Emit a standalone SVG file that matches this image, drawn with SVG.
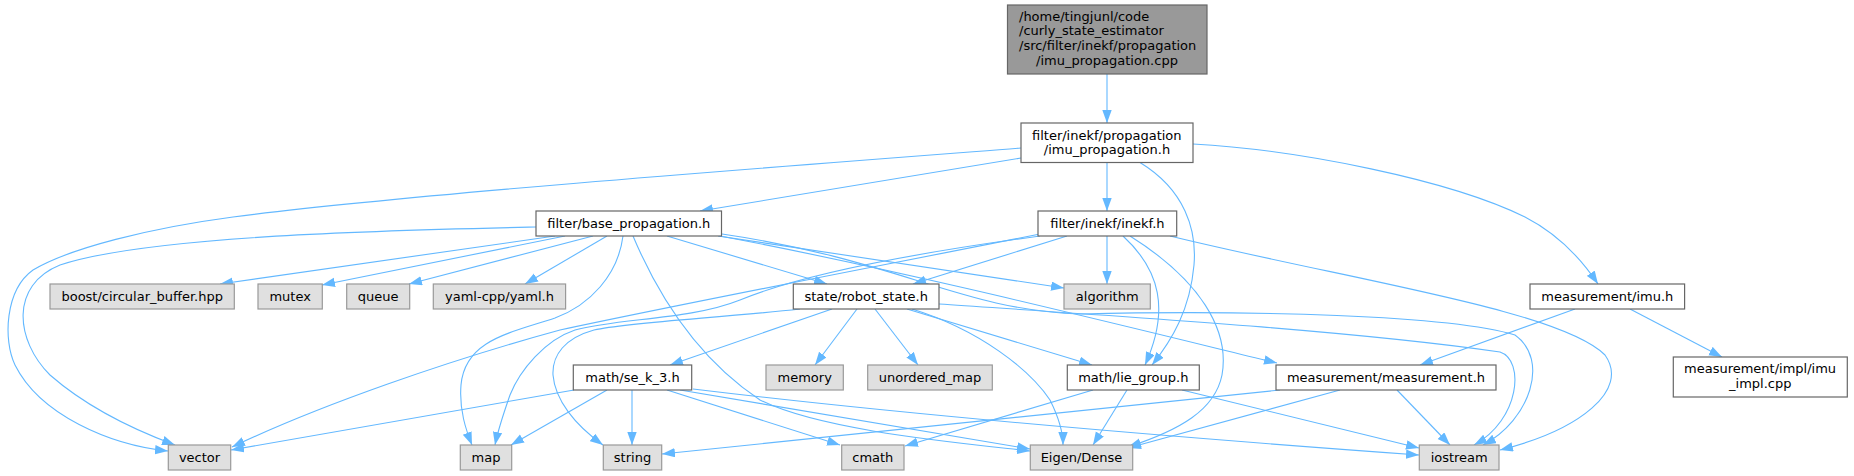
<svg xmlns="http://www.w3.org/2000/svg" width="1854" height="476" viewBox="0 0 1854 476">
<style>
.e{fill:none;stroke:#63b8ff;stroke-width:1.1;marker-end:url(#ah)}
.n rect{fill:#ffffff;stroke:#666666;stroke-width:1.2}
.x rect{fill:#e0e0e0;stroke:#999999;stroke-width:1.2}
.r rect{fill:#999999;stroke:#666666;stroke-width:1.2}
text{font-family:"DejaVu Sans","Liberation Sans",sans-serif;font-size:13px;fill:#000000}
.m{text-anchor:middle}
</style>
<defs>
<marker id="ah" markerUnits="userSpaceOnUse" markerWidth="14" markerHeight="10" refX="13" refY="4.7" orient="auto">
<path d="M0,0 L13,4.7 L0,9.4 z" fill="#63b8ff"/>
</marker>
</defs>
<rect width="1854" height="476" fill="#ffffff"/>
<g id="edges">
<path class="e" d="M1107,74 L1107,123"/>
<path class="e" d="M1021,158 L700,211"/>
<path class="e" d="M1021,148 C800,165 400,195 233,217 C150,228 70,248 33,270 C5,290 3,340 15,365 C40,415 110,445 168,451"/>
<path class="e" d="M1107,162.5 L1107,211"/>
<path class="e" d="M1140,162.5 C1185,190 1197,230 1194,265 C1190,310 1172,340 1152,365"/>
<path class="e" d="M1193,144 C1300,150 1450,180 1525,217 C1560,235 1582,260 1598,284"/>
<path class="e" d="M555,236 L220,284"/>
<path class="e" d="M565,236 L322,285"/>
<path class="e" d="M593,236 L409,284"/>
<path class="e" d="M607,236 L525,284"/>
<path class="e" d="M536,227 C400,230 150,235 60,265 C10,285 15,340 50,375 C90,410 140,432 175,445"/>
<path class="e" d="M623,236 C618,275 590,305 555,318 C510,333 465,340 461,385 C459,410 466,430 472,445"/>
<path class="e" d="M633,236 C660,300 700,360 760,400 C820,430 950,442 1030,451"/>
<path class="e" d="M667,236 L827,284"/>
<path class="e" d="M718,236 L1064,288"/>
<path class="e" d="M720,236 C900,270 1100,320 1277,363"/>
<path class="e" d="M722,234 C900,260 960,310 1080,314 C1250,310 1450,315 1515,335 C1550,360 1530,420 1483,445"/>
<path class="e" d="M1107,236 L1107,284"/>
<path class="e" d="M1067,236 L913,284"/>
<path class="e" d="M1040,234 C900,262 700,300 560,330 C450,360 320,405 232,447"/>
<path class="e" d="M1040,236 C900,255 800,275 740,300 C690,320 620,318 575,330 C545,340 520,370 510,395 C503,415 498,430 495,445"/>
<path class="e" d="M1123,236 C1160,270 1170,310 1145,365"/>
<path class="e" d="M1130,236 C1200,280 1230,330 1222,375 C1215,410 1180,430 1128,447"/>
<path class="e" d="M1170,236 C1350,280 1560,310 1605,355 C1630,390 1580,430 1500,450"/>
<path class="e" d="M832,309 L670,365"/>
<path class="e" d="M857,309 L815,365"/>
<path class="e" d="M875,309 L918,365"/>
<path class="e" d="M907,309 L1092,365"/>
<path class="e" d="M912,309 C980,330 1030,370 1050,400 C1060,420 1063,435 1063,445"/>
<path class="e" d="M939,304 C1100,315 1350,330 1500,352 C1525,360 1520,420 1474,445"/>
<path class="e" d="M800,309 C720,318 630,322 594,330 C565,338 552,355 553,375 C555,400 575,425 603,445"/>
<path class="e" d="M574,390 L231,450"/>
<path class="e" d="M607,390 L511,445"/>
<path class="e" d="M632,390 L632,445"/>
<path class="e" d="M667,390 L840,445"/>
<path class="e" d="M680,390 L1030,449"/>
<path class="e" d="M693,389 C850,408 1100,432 1419,455"/>
<path class="e" d="M1093,390 L905,446"/>
<path class="e" d="M1127,390 L1093,445"/>
<path class="e" d="M1182,390 L1419,448"/>
<path class="e" d="M1280,390 L662,454"/>
<path class="e" d="M1340,390 L1128,448"/>
<path class="e" d="M1397,390 L1450,445"/>
<path class="e" d="M1575,309 L1420,365"/>
<path class="e" d="M1630,309 L1722,357"/>
</g>
<g id="node_root" class="r"><rect x="1007.5" y="5" width="199.5" height="69"/>
<text x="1019" y="20.5">/home/tingjunl/code</text>
<text x="1019" y="35">/curly_state_estimator</text>
<text x="1019" y="50">/src/filter/inekf/propagation</text>
<text class="m" x="1107" y="64.5">/imu_propagation.cpp</text></g>
<g id="node_imu_propagation" class="n"><rect x="1021" y="123" width="172" height="39.5"/>
<text x="1032" y="139.5">filter/inekf/propagation</text>
<text class="m" x="1107" y="154">/imu_propagation.h</text></g>
<g id="node_base_propagation" class="n"><rect x="536" y="211" width="185.5" height="25"/><text class="m" x="628.8" y="227.5">filter/base_propagation.h</text></g>
<g id="node_inekf" class="n"><rect x="1038" y="211" width="138.7" height="25"/><text class="m" x="1107.4" y="227.5">filter/inekf/inekf.h</text></g>
<g id="node_boost" class="x"><rect x="50" y="284" width="184.3" height="25"/><text class="m" x="142.2" y="300.5">boost/circular_buffer.hpp</text></g>
<g id="node_mutex" class="x"><rect x="258" y="284" width="64.3" height="25"/><text class="m" x="290.2" y="300.5">mutex</text></g>
<g id="node_queue" class="x"><rect x="346.7" y="284" width="63" height="25"/><text class="m" x="378.2" y="300.5">queue</text></g>
<g id="node_yaml" class="x"><rect x="433.3" y="284" width="132.3" height="25"/><text class="m" x="499.5" y="300.5">yaml-cpp/yaml.h</text></g>
<g id="node_robot_state" class="n"><rect x="793.3" y="284" width="145.7" height="25"/><text class="m" x="866.2" y="300.5">state/robot_state.h</text></g>
<g id="node_algorithm" class="x"><rect x="1064" y="284" width="86.3" height="25"/><text class="m" x="1107.2" y="300.5">algorithm</text></g>
<g id="node_imu" class="n"><rect x="1530" y="284" width="154.6" height="25"/><text class="m" x="1607.3" y="300.5">measurement/imu.h</text></g>
<g id="node_se_k_3" class="n"><rect x="573.3" y="365" width="118.4" height="25"/><text class="m" x="632.5" y="381.5">math/se_k_3.h</text></g>
<g id="node_memory" class="x"><rect x="766" y="365" width="77.3" height="25"/><text class="m" x="804.7" y="381.5">memory</text></g>
<g id="node_unordered_map" class="x"><rect x="867.7" y="365" width="124.6" height="25"/><text class="m" x="930" y="381.5">unordered_map</text></g>
<g id="node_lie_group" class="n"><rect x="1067.3" y="365" width="132" height="25"/><text class="m" x="1133.3" y="381.5">math/lie_group.h</text></g>
<g id="node_measurement" class="n"><rect x="1276" y="365" width="220" height="25"/><text class="m" x="1386" y="381.5">measurement/measurement.h</text></g>
<g id="node_imu_impl" class="n"><rect x="1673.3" y="357" width="174" height="40"/>
<text x="1684" y="373">measurement/impl/imu</text>
<text class="m" x="1760.3" y="388">_impl.cpp</text></g>
<g id="node_vector" class="x"><rect x="168.3" y="445" width="62.4" height="25"/><text class="m" x="199.5" y="461.5">vector</text></g>
<g id="node_map" class="x"><rect x="460.3" y="445" width="51.4" height="25"/><text class="m" x="486" y="461.5">map</text></g>
<g id="node_string" class="x"><rect x="603.3" y="445" width="58.4" height="25"/><text class="m" x="632.5" y="461.5">string</text></g>
<g id="node_cmath" class="x"><rect x="841.7" y="445" width="62.3" height="25"/><text class="m" x="872.8" y="461.5">cmath</text></g>
<g id="node_eigen" class="x"><rect x="1030.3" y="445" width="102.4" height="25"/><text class="m" x="1081.5" y="461.5">Eigen/Dense</text></g>
<g id="node_iostream" class="x"><rect x="1419.3" y="445" width="79.7" height="25"/><text class="m" x="1459.2" y="461.5">iostream</text></g>
</svg>
